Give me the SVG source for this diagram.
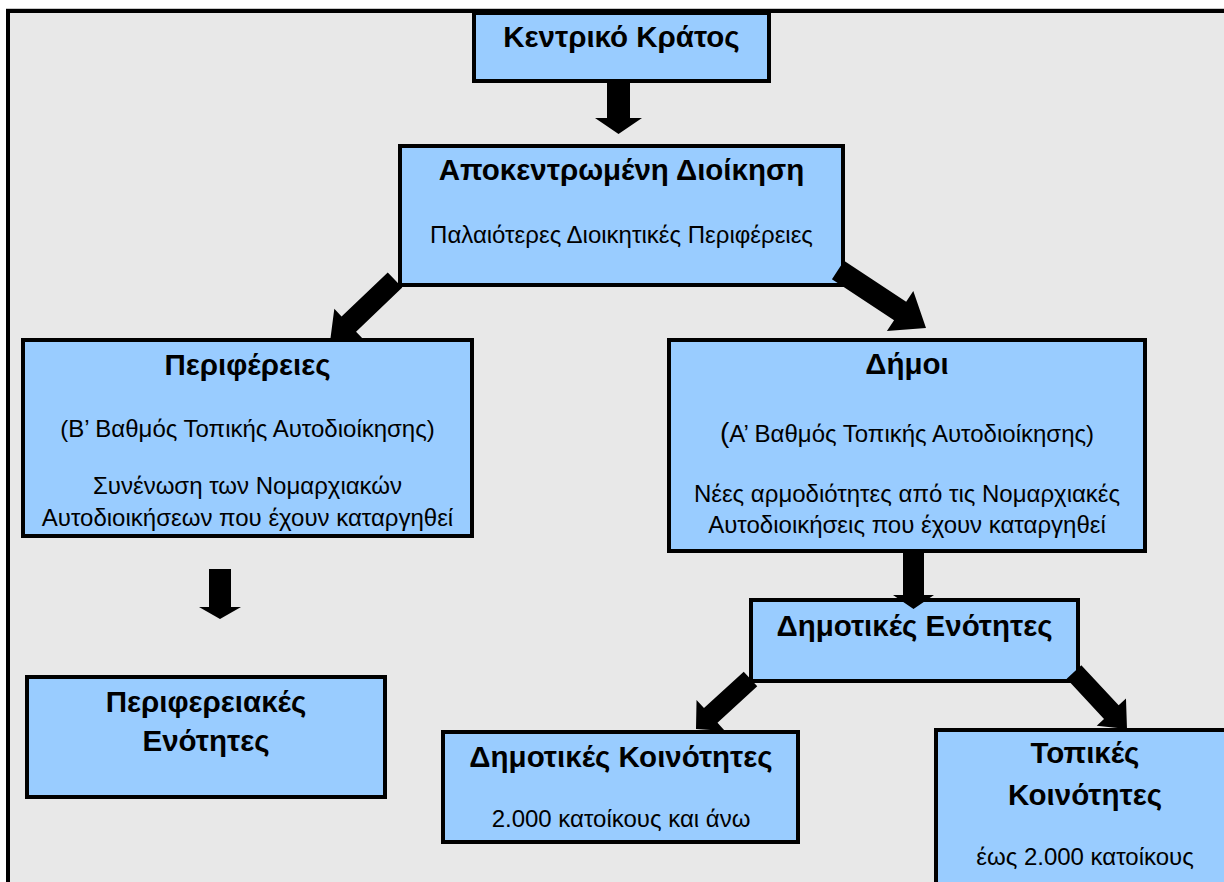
<svg xmlns="http://www.w3.org/2000/svg" width="1224" height="882" viewBox="0 0 1224 882">
<style>
.box{fill:#99ccff;stroke:#000;stroke-width:4}
.t{font-family:"Liberation Sans",Arial,sans-serif;font-size:29.5px;font-weight:bold;fill:#000;text-anchor:middle}
.s{font-family:"Liberation Sans",Arial,sans-serif;font-size:24px;fill:#000;text-anchor:middle}
.arr{fill:#000;stroke:none}
</style>
<rect x="0" y="0" width="1224" height="882" fill="#ffffff"/>
<line x1="6" y1="8.5" x2="1224" y2="8.5" stroke="#c8c8c8" stroke-width="1"/>
<rect x="8" y="11" width="1240" height="900" fill="#e8e8e8" stroke="#000" stroke-width="4"/>

<g id="node-kentriko">
<rect class="box" x="474" y="13" width="295" height="68"/>
<text class="t" x="621.5" y="47">Κεντρικό Κράτος</text>
</g>
<g id="node-apokentromeni">
<rect class="box" x="400" y="146" width="443" height="139"/>
<text class="t" x="621.5" y="180">Αποκεντρωμένη Διοίκηση</text>
<text class="s" x="621.5" y="243">Παλαιότερες Διοικητικές Περιφέρειες</text>
</g>
<g id="node-perifereies">
<rect class="box" x="23" y="340" width="449" height="196"/>
<text class="t" x="247.5" y="375">Περιφέρειες</text>
<text class="s" x="247.5" y="437">(Β’ Βαθμός Τοπικής Αυτοδιοίκησης)</text>
<text class="s" x="247.5" y="494">Συνένωση των Νομαρχιακών</text>
<text class="s" x="247.5" y="526">Αυτοδιοικήσεων που έχουν καταργηθεί</text>
</g>
<g id="node-dimoi">
<rect class="box" x="669" y="340" width="476" height="211"/>
<text class="t" x="907" y="374">Δήμοι</text>
<text class="s" x="907" y="442"><tspan font-size="28">(</tspan>Α’ Βαθμός Τοπικής Αυτοδιοίκησης)</text>
<text class="s" x="907" y="502">Νέες αρμοδιότητες από τις Νομαρχιακές</text>
<text class="s" x="907" y="533">Αυτοδιοικήσεις που έχουν καταργηθεί</text>
</g>
<g id="node-perifereiakes-enotites">
<rect class="box" x="27" y="677" width="358" height="120"/>
<text class="t" x="206" y="712">Περιφερειακές</text>
<text class="t" x="206" y="751">Ενότητες</text>
</g>
<g id="node-dimotikes-enotites">
<rect class="box" x="751" y="600" width="327" height="81"/>
<text class="t" x="914.5" y="636">Δημοτικές Ενότητες</text>
</g>
<g id="node-dimotikes-koinotites">
<rect class="box" x="443" y="732" width="355" height="110"/>
<text class="t" x="621" y="767">Δημοτικές Κοινότητες</text>
<text class="s" x="621" y="827">2.000 κατοίκους και άνω</text>
</g>
<g id="node-topikes-koinotites">
<rect class="box" x="936" y="730" width="304" height="170"/>
<text class="t" x="1085" y="763">Τοπικές</text>
<text class="t" x="1085" y="805">Κοινότητες</text>
<text class="s" x="1085" y="865">έως 2.000 κατοίκους</text>
</g>

<g id="connectors">
<polygon class="arr" points="607,83 630,83 630,118 642,118 618.5,134 595,118 607,118"/>
<polygon class="arr" points="402.25,287.6 356.06,331.65 363.3,339.25 330,342 334.32,308.85 341.56,316.45 387.75,272.4"/>
<polygon class="arr" points="831.95,279.19 894.06,320.14 886.91,330.99 926,328 913.31,290.91 906.16,301.76 844.05,260.81"/>
<polygon class="arr" points="903,551 924,551 924,595 934,595 913.5,609 893,595 903,595"/>
<polygon class="arr" points="209,569 231,569 231,607 241,607 220,619 199,607 209,607"/>
<polygon class="arr" points="757.26,686.37 717.5,722.85 724.94,730.95 696,729 696.54,700.01 703.98,708.11 743.74,671.63"/>
<polygon class="arr" points="1066.68,678.81 1104.02,718.97 1096.7,725.78 1127,729 1125.98,698.54 1118.66,705.35 1081.32,665.19"/>
</g>
</svg>
